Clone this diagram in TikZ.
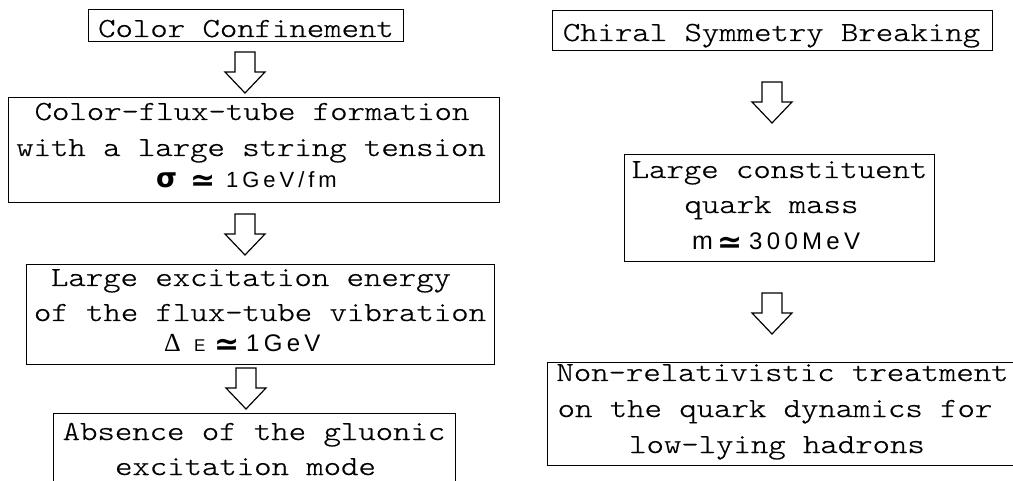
\documentclass[tikz,border=0pt]{standalone}
\usepackage{fontspec}
\setmonofont{lmmonolt10-regular.otf}[FakeStretch=1.2,FakeBold=0.6]
\newfontfamily\symf{DejaVu Sans}
\newfontfamily\serf{Liberation Serif}
\newfontfamily\unitf[LetterSpace=18]{Liberation Sans}
\begin{document}
\begin{tikzpicture}[x=1pt,y=-1pt,
  bx/.style={draw, line width=1.3pt, rectangle, inner sep=0pt, anchor=north west},
  ln/.style={anchor=base, inner sep=0pt, font=\fontsize{27.6}{35}\ttfamily},
  part/.style={anchor=base west, inner sep=0pt},
  hollowarrow/.pic={\draw[line width=1.2pt, line join=miter]
     (-10,0) -- (10,0) -- (10,20) -- (20,20) -- (0,41) -- (-20,20) -- (-10,20) -- cycle;}
]
\clip (0,0) rectangle (1013,481);
\fill[white] (0,0) rectangle (1013,481);
% left column boxes
\node[bx, minimum width=315pt, minimum height=32pt] (b1) at (88,9) {};
\node[bx, minimum width=491pt, minimum height=105pt] (b2) at (8,97) {};
\node[bx, minimum width=468pt, minimum height=100pt] (b3) at (26,264) {};
\node[bx, minimum width=402pt, minimum height=100pt] (b4) at (53,413) {};
% right column boxes
\node[bx, minimum width=440pt, minimum height=40pt] (r1) at (552,10) {};
\node[bx, minimum width=310pt, minimum height=107pt] (r2) at (624,154) {};
\node[bx, minimum width=500pt, minimum height=103pt] (r3) at (547,362) {};
% texts left
\node[ln] (t1) at (246,37) {Color Confinement};
\node[ln] (t2a) at (252,120) {Color-flux-tube formation};
\node[ln] (t2b) at (251,156) {with a large string tension};
\node[part, font=\fontsize{27}{27}\symf\bfseries] (t2c1) at (156,188) {σ};
\node[part, font=\fontsize{30}{30}\symf\bfseries] (t2c2) at (190,191) {≃};
\node[part, font=\fontsize{22}{22}\unitf] (t2c3) at (226,188) {1GeV/fm};
\node[ln] (t3a) at (251,286) {Large excitation energy};
\node[ln] (t3b) at (260,321) {of the flux-tube vibration};
\node[part, font=\fontsize{26}{26}\serf] (t3c1) at (164,352) {Δ};
\node[part, font=\fontsize{17}{17}\unitf] (t3c2) at (194,352) {E};
\node[part, font=\fontsize{30}{30}\symf\bfseries] (t3c3) at (214,355) {≃};
\node[part, font=\fontsize{24}{24}\unitf] (t3c4) at (246,352) {1GeV};
\node[ln] (t4a) at (254,440) {Absence of the gluonic};
\node[ln] (t4b) at (245.5,475) {excitation mode};
% texts right
\node[ln] (u1) at (771.5,41) {Chiral Symmetry Breaking};
\node[ln] (u2a) at (779.5,178) {Large constituent};
\node[ln] (u2b) at (771.5,213) {quark mass};
\node[part, font=\fontsize{25}{25}\unitf] (u2c1) at (692,250) {m};
\node[part, font=\fontsize{30}{30}\symf\bfseries] (u2c2) at (717,253) {≃};
\node[part, font=\fontsize{24}{24}\unitf] (u2c3) at (749,250) {300MeV};
\node[ln] (u3a) at (782.5,381) {Non-relativistic treatment};
\node[ln] (u3b) at (775,417) {on the quark dynamics for};
\node[ln] (u3c) at (777,453) {low-lying hadrons};
% hollow block arrows
\pic at (245,52) {hollowarrow};
\pic at (245,214) {hollowarrow};
\pic at (246,368) {hollowarrow};
\pic at (772,82) {hollowarrow};
\pic at (772,293) {hollowarrow};
\end{tikzpicture}
\end{document}
